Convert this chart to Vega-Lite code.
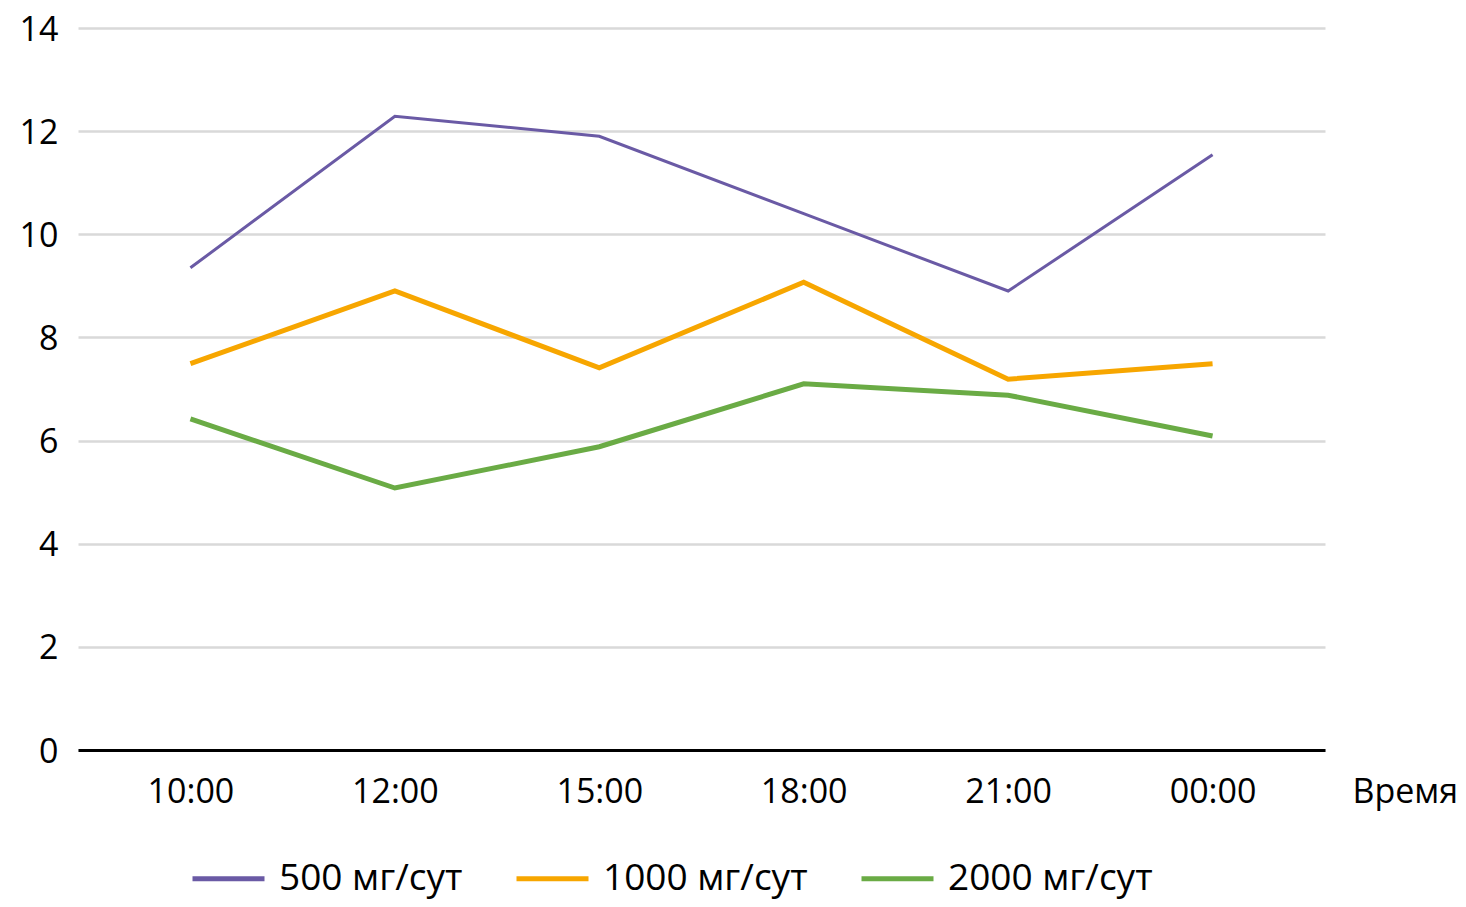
{
  "$schema": "https://vega.github.io/schema/vega-lite/v6.json",
  "autosize": {"type": "none"},
  "width": 1247,
  "height": 722,
  "padding": {"left": 78, "top": 28, "right": 141, "bottom": 157},
  "background": "white",
  "config": {
    "view": {"stroke": null},
    "font": "Open Sans",
    "axis": {"labelFont": "Open Sans", "titleFont": "Open Sans", "labelColor": "black", "titleColor": "black"}
  },
  "data": {
    "values": [
      {"time": "10:00", "dose": "500 мг/сут", "value": 9.35},
      {"time": "12:00", "dose": "500 мг/сут", "value": 12.29},
      {"time": "15:00", "dose": "500 мг/сут", "value": 11.9},
      {"time": "18:00", "dose": "500 мг/сут", "value": 10.4},
      {"time": "21:00", "dose": "500 мг/сут", "value": 8.9},
      {"time": "00:00", "dose": "500 мг/сут", "value": 11.54},
      {"time": "10:00", "dose": "1000 мг/сут", "value": 7.49},
      {"time": "12:00", "dose": "1000 мг/сут", "value": 8.9},
      {"time": "15:00", "dose": "1000 мг/сут", "value": 7.41},
      {"time": "18:00", "dose": "1000 мг/сут", "value": 9.07},
      {"time": "21:00", "dose": "1000 мг/сут", "value": 7.19},
      {"time": "00:00", "dose": "1000 мг/сут", "value": 7.49},
      {"time": "10:00", "dose": "2000 мг/сут", "value": 6.42},
      {"time": "12:00", "dose": "2000 мг/сут", "value": 5.08},
      {"time": "15:00", "dose": "2000 мг/сут", "value": 5.88},
      {"time": "18:00", "dose": "2000 мг/сут", "value": 7.1},
      {"time": "21:00", "dose": "2000 мг/сут", "value": 6.88},
      {"time": "00:00", "dose": "2000 мг/сут", "value": 6.09}
    ]
  },
  "encoding": {
    "x": {
      "field": "time",
      "type": "ordinal",
      "sort": ["10:00", "12:00", "15:00", "18:00", "21:00", "00:00"],
      "scale": {"type": "point", "padding": 0.55},
      "axis": {
        "title": "Время",
        "titleFontSize": 34,
        "titleFontWeight": "normal",
        "titleX": 1274,
        "titleY": 52,
        "titleAlign": "left",
        "titleBaseline": "alphabetic",
        "labelFontSize": 34,
        "labelAngle": 0,
        "labelBaseline": "alphabetic",
        "labelPadding": 52,
        "ticks": false,
        "tickSize": 0,
        "domainColor": "black",
        "domainWidth": 3
      }
    },
    "y": {
      "field": "value",
      "type": "quantitative",
      "scale": {"domain": [0, 14]},
      "axis": {
        "title": null,
        "values": [0, 2, 4, 6, 8, 10, 12, 14],
        "labelFontSize": 34,
        "labelPadding": 20,
        "labelOffset": 2,
        "ticks": false,
        "tickSize": 0,
        "domain": false,
        "gridColor": "#d9d9d9",
        "gridWidth": 2.5
      }
    },
    "color": {
      "field": "dose",
      "type": "nominal",
      "sort": ["500 мг/сут", "1000 мг/сут", "2000 мг/сут"],
      "scale": {"domain": ["500 мг/сут", "1000 мг/сут", "2000 мг/сут"], "range": ["#6a5aa5", "#f7a600", "#6aab45"]},
      "legend": {
        "title": null,
        "orient": "none",
        "direction": "horizontal",
        "legendX": 112,
        "legendY": 812,
        "symbolType": "stroke",
        "symbolSize": 5184,
        "symbolStrokeWidth": 5,
        "labelFontSize": 37,
        "labelFont": "Open Sans",
        "labelColor": "black",
        "labelOffset": 12,
        "columnPadding": 43,
        "labelLimit": 400
      }
    }
  },
  "layer": [
    {
      "transform": [{"filter": "datum.dose === '500 мг/сут'"}],
      "mark": {"type": "line", "strokeWidth": 3, "strokeJoin": "miter"}
    },
    {
      "transform": [{"filter": "datum.dose !== '500 мг/сут'"}],
      "mark": {"type": "line", "strokeWidth": 5, "strokeJoin": "miter"}
    }
  ]
}
